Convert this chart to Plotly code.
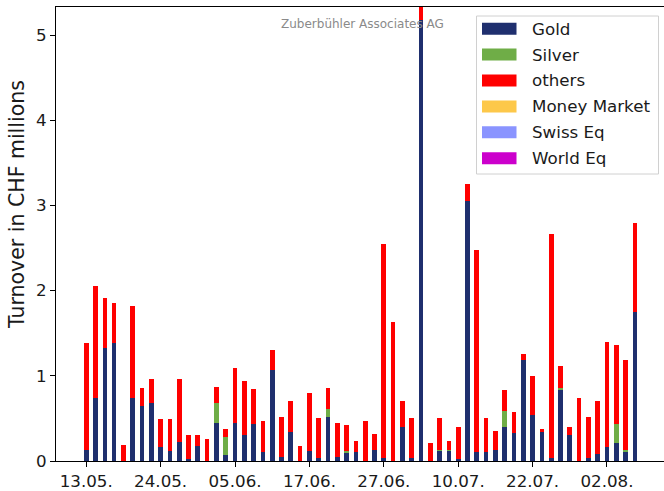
import plotly.graph_objects as go

dates = ["13.05.", "14.05.", "15.05.", "16.05.", "17.05.", "21.05.", "22.05.", "23.05.", "24.05.", "27.05.",
         "28.05.", "29.05.", "30.05.", "31.05.", "03.06.", "04.06.", "05.06.", "06.06.", "07.06.", "10.06.",
         "11.06.", "12.06.", "13.06.", "14.06.", "17.06.", "18.06.", "19.06.", "20.06.", "21.06.", "24.06.",
         "25.06.", "26.06.", "27.06.", "28.06.", "01.07.", "02.07.", "03.07.", "04.07.", "08.07.", "09.07.",
         "10.07.", "11.07.", "12.07.", "15.07.", "16.07.", "17.07.", "18.07.", "19.07.", "22.07.", "23.07.",
         "24.07.", "25.07.", "26.07.", "29.07.", "30.07.", "31.07.", "02.08.", "05.08.", "06.08.", "07.08."]

gold = [0.135, 0.74, 1.33, 1.39, 0, 0.74, 0.64, 0.68, 0.16, 0.12,
        0.22, 0.02, 0.18, 0, 0.45, 0.065, 0.45, 0.30, 0.44, 0.10,
        1.07, 0.05, 0.34, 0, 0.12, 0.03, 0.52, 0.05, 0.10, 0.10,
        0, 0.135, 0.03, 0, 0.40, 0.03, 5.18, 0, 0.12, 0.12,
        0.02, 3.05, 0.10, 0.11, 0.135, 0.40, 0.33, 1.19, 0.54, 0.35,
        0.03, 0.84, 0.31, 0, 0.03, 0.08, 0.17, 0.21, 0.10, 1.75]

silver = [0, 0, 0, 0, 0, 0, 0, 0, 0, 0,
          0, 0, 0, 0, 0.23, 0.215, 0, 0, 0, 0,
          0, 0, 0, 0, 0, 0, 0.09, 0, 0.02, 0,
          0, 0, 0, 0, 0, 0, 0, 0, 0.015, 0.015,
          0, 0, 0, 0, 0, 0.19, 0, 0, 0, 0,
          0, 0.02, 0, 0, 0, 0, 0, 0.23, 0.027, 0]

others = [1.255, 1.31, 0.58, 0.47, 0.19, 1.08, 0.22, 0.28, 0.33, 0.37,
          0.74, 0.28, 0.13, 0.26, 0.19, 0.09, 0.64, 0.64, 0.40, 0.37,
          0.23, 0.47, 0.36, 0.18, 0.68, 0.48, 0.25, 0.40, 0.30, 0.14,
          0.47, 0.185, 2.52, 1.63, 0.31, 0.48, 0.25, 0.21, 0.375, 0.105,
          0.38, 0.20, 2.38, 0.40, 0.215, 0.24, 0.25, 0.07, 0.46, 0.02,
          2.63, 0.25, 0.09, 0.74, 0.49, 0.63, 1.23, 0.92, 1.063, 1.05]

money_market = [0] * 60
swiss_eq = [0] * 60
world_eq = [0] * 60

series_names = ["Gold", "Silver", "others", "Money Market", "Swiss Eq", "World Eq"]
series_values = [gold, silver, others, money_market, swiss_eq, world_eq]
series_colors = ["#1f2f6e", "#6fad47", "#ff0000", "#fdc84a", "#8a94ff", "#cc00cc"]

tick_labels = ["13.05.", "24.05.", "05.06.", "17.06.", "27.06.", "10.07.", "22.07.", "02.08."]

FONT = "DejaVu Sans"
FS = 16.7
TXT = "#1a1a1a"

fig = go.Figure()
for name, vals, col in zip(series_names, series_values, series_colors):
    fig.add_trace(go.Bar(
        x=dates, y=vals, name=name, width=0.5,
        marker=dict(color=col, line=dict(width=0)),
        showlegend=False,
    ))

# plot-area geometry in pixels (for the hand-drawn legend)
X0, X1, YT, YB = 56, 664, 7, 461
def px(x):
    return (x - X0) / (X1 - X0)
def py(y):
    return (YB - y) / (YB - YT)

shapes = []
annotations = []
# legend frame
shapes.append(dict(type="rect", xref="paper", yref="paper",
                   x0=px(476.5), x1=px(658.5), y0=py(174), y1=py(16),
                   line=dict(color="#d0d0d0", width=1), fillcolor="rgba(255,255,255,0.85)",
                   layer="above"))
row_y = [28.7, 54.6, 80.5, 106.4, 132.3, 158.2]
for name, col, ry in zip(series_names, series_colors, row_y):
    shapes.append(dict(type="rect", xref="paper", yref="paper",
                       x0=px(482), x1=px(516.5), y0=py(ry + 6), y1=py(ry - 6),
                       line=dict(width=0), fillcolor=col, layer="above"))
    annotations.append(dict(text=name, xref="paper", yref="paper",
                            x=px(530), y=py(ry), xanchor="left", yanchor="middle",
                            showarrow=False, font=dict(family=FONT, size=FS, color=TXT)))

annotations.append(dict(text="Zuberbühler Associates AG", xref="paper", yref="paper",
                        x=px(362), y=py(24), xanchor="center", yanchor="middle",
                        showarrow=False, font=dict(family=FONT, size=12, color="#8a8a8a")))

# y-axis label
annotations.append(dict(text="Turnover in CHF millions", xref="paper", yref="paper",
                        x=px(17), y=py(205), xanchor="center", yanchor="middle",
                        textangle=-90, showarrow=False,
                        font=dict(family=FONT, size=20.5, color=TXT)))

fig.update_layout(
    width=664, height=491,
    margin=dict(l=X0, r=0, t=YT, b=491 - YB),
    plot_bgcolor="white", paper_bgcolor="white",
    barmode="stack", bargap=0,
    font=dict(family=FONT, size=FS, color=TXT),
    shapes=shapes, annotations=annotations,
    showlegend=False,
)
fig.update_xaxes(
    type="category", range=[-3.25, 62.13],
    tickmode="array", tickvals=tick_labels, ticktext=tick_labels,
    ticks="outside", ticklen=5, tickwidth=1, tickcolor="#000000",
    showline=True, linecolor="#000000", linewidth=1, mirror=True,
    showgrid=False, zeroline=False,
    tickfont=dict(family=FONT, size=FS, color=TXT),
)
fig.update_yaxes(
    range=[0, 5.33],
    tickvals=[0, 1, 2, 3, 4, 5],
    ticks="outside", ticklen=5, tickwidth=1, tickcolor="#000000",
    showline=True, linecolor="#000000", linewidth=1, mirror=True,
    showgrid=False, zeroline=False,
    tickfont=dict(family=FONT, size=FS, color=TXT),
)

fig.write_html(
    "out.html",
    config={"displayModeBar": False},
    post_script="document.body.style.margin='0';document.body.style.padding='0';document.body.style.overflow='hidden';",
)
